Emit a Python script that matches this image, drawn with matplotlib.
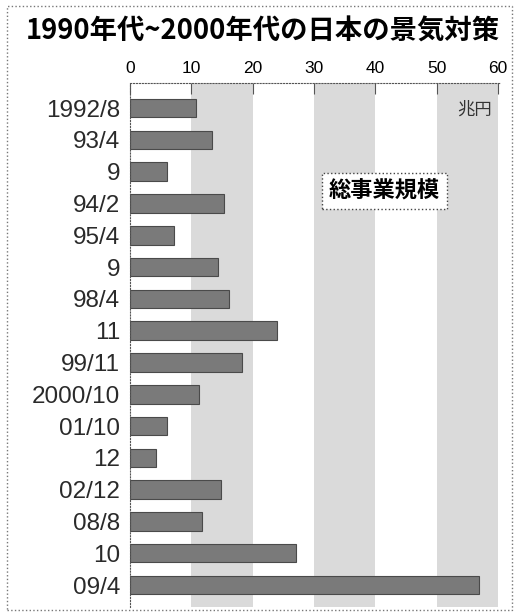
import numpy as np
import matplotlib
matplotlib.use("Agg")
import matplotlib.pyplot as plt
from matplotlib.patches import Rectangle

plt.rcParams['font.family'] = ['Liberation Sans', 'Noto Sans CJK JP', 'DejaVu Sans']

# 経済対策の総事業規模 (兆円)
labels = ['1992/8', '93/4', '9', '94/2', '95/4', '9', '98/4', '11',
          '99/11', '2000/10', '01/10', '12', '02/12', '08/8', '10', '09/4']
values = [10.7, 13.3, 6.1, 15.3, 7.2, 14.4, 16.2, 24.0,
          18.2, 11.3, 6.0, 4.2, 14.9, 11.8, 27.0, 56.9]
xticks = [0, 10, 20, 30, 40, 50, 60]

W, H = 517, 614
fig = plt.figure(figsize=(W / 100, H / 100), dpi=100)
fig.patch.set_facecolor('white')

# axes placed in pixel units
left, right, top, bottom = 130, 500, 83, 607
ax = fig.add_axes([left / W, 1 - bottom / H, (right - left) / W, (bottom - top) / H])

# shaded bands every other 10
for x0 in xticks[1::2]:
    ax.axvspan(x0, x0 + 10, color='#dadada', lw=0, zorder=0)

y = np.arange(len(labels))
ax.barh(y, values, height=0.58, color='#7a7a7a', edgecolor='#4a4a4a', linewidth=0.8, zorder=2)

ax.set_xlim(0, 60.3)
ax.set_ylim(len(labels) - 1 + 0.69, -0.79)

ax.xaxis.tick_top()
ax.set_xticks(xticks)
ax.set_xticklabels([str(v) for v in xticks], fontsize=12.5)
ax.tick_params(axis='x', direction='in', length=8, width=0.8, color='#555555', pad=5)
ax.set_yticks(y)
ax.set_yticklabels(labels, fontsize=17.5, color='#2a2a2a')
ax.tick_params(axis='y', length=0, pad=7)

for side in ['right', 'bottom']:
    ax.spines[side].set_visible(False)
ax.spines['top'].set_linestyle(':')
ax.spines['top'].set_color('#555555')
ax.spines['left'].set_linestyle(':')
ax.spines['left'].set_color('#555555')

ax.text(59, 0.05, '兆円', ha='right', va='center', fontsize=12.5,
        family=['Noto Sans CJK JP'], color='#333333')
ax.text(41.5, 2.6, '総事業規模', ha='center', va='center', fontsize=16,
        fontweight='bold', family=['Noto Sans CJK JP'], zorder=4,
        bbox=dict(boxstyle='square,pad=0.3', fc='white', ec='#444444', ls=':', lw=1))

fig.text(263 / W, 1 - 32 / H, '1990年代~2000年代の日本の景気対策', ha='center', va='center',
         fontsize=19.7, fontweight='bold', family=['Noto Sans CJK JP', 'DejaVu Sans'])

# outer frame
fig.patches.append(Rectangle((7 / W, 1 - 610 / H), 505 / W, 604 / H, transform=fig.transFigure,
                             fill=False, ec='#777777', ls=':', lw=1))

fig.savefig('out.png', dpi=100)
